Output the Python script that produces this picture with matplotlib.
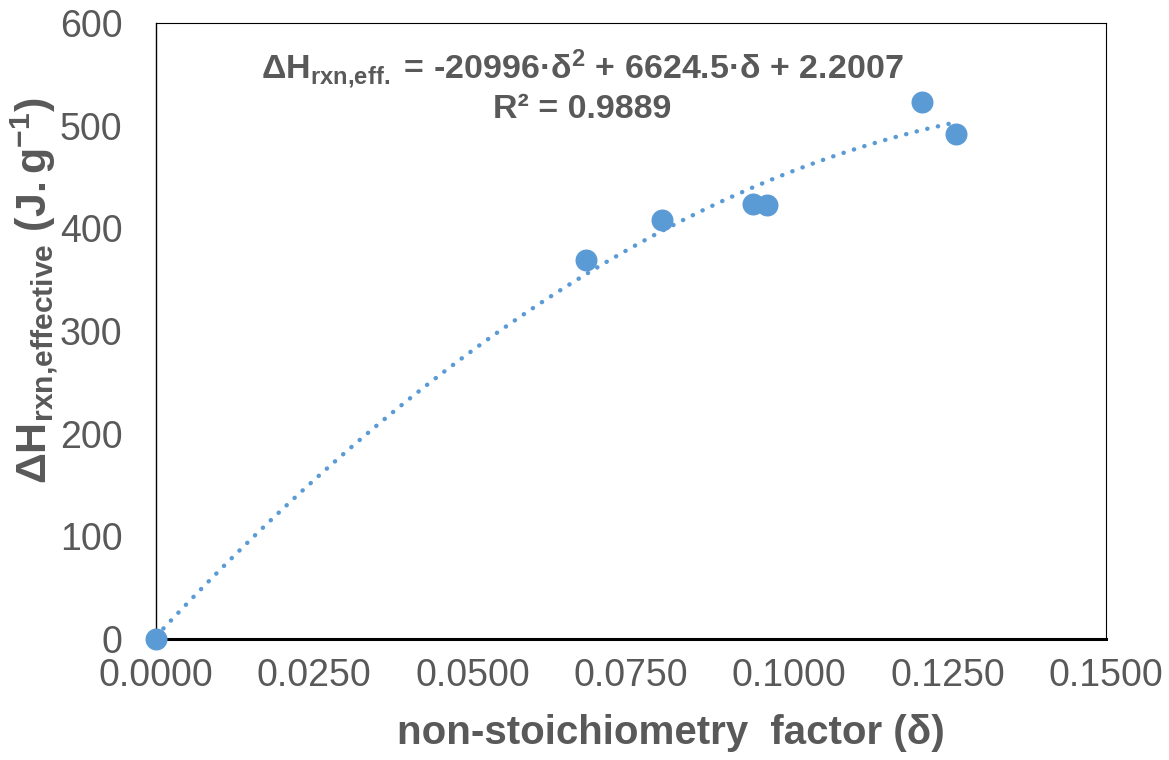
import matplotlib.pyplot as plt
import numpy as np

plt.rcParams['font.family'] = ['Liberation Sans', 'DejaVu Sans']
plt.rcParams['mathtext.fontset'] = 'custom'
plt.rcParams['mathtext.rm'] = 'Liberation Sans'
plt.rcParams['mathtext.bf'] = 'Liberation Sans:bold'
plt.rcParams['mathtext.it'] = 'Liberation Sans:italic'

# measured data
delta = [0.0, 0.0679, 0.0799, 0.0942, 0.0965, 0.1209, 0.1264]
dh_eff = [0.0, 369.0, 408.5, 423.6, 423.0, 523.5, 491.7]

x_ticks = [0.0, 0.025, 0.05, 0.075, 0.1, 0.125, 0.15]
y_ticks = [0, 100, 200, 300, 400, 500, 600]

blue = '#5B9BD5'
grey = '#595959'

fig = plt.figure(figsize=(11.69, 7.6), dpi=100)
ax = fig.add_axes([0.1334, 0.1596, 0.8126, 0.810])

# 2nd order polynomial trendline
coef = np.polyfit(delta, dh_eff, 2)
xs = np.linspace(0, max(delta), 200)
ax.plot(xs, np.polyval(coef, xs), color=blue, lw=3.2,
        linestyle=(0, (0.05, 2.4)), dash_capstyle='round', zorder=2)

ax.scatter(delta, dh_eff, s=220, color=blue, zorder=3, clip_on=False)

ax.set_xlim(0, 0.15)
ax.set_ylim(0, 600)
ax.set_xticks(x_ticks)
ax.set_xticklabels([f'{v:.4f}' for v in x_ticks])
ax.set_yticks(y_ticks)
ax.tick_params(length=0, labelsize=27, labelcolor=grey)
ax.tick_params(axis='x', pad=14)
ax.tick_params(axis='y', pad=24)

for s in ['top', 'right']:
    ax.spines[s].set_linewidth(0.8)
ax.spines['left'].set_linewidth(1.0)
ax.spines['bottom'].set_linewidth(2.2)

ax.set_xlabel('non-stoichiometry  factor (δ)', fontsize=29, fontweight='bold',
              color=grey)
ax.xaxis.set_label_coords(0.542, -0.123)
ax.set_ylabel(r'$\mathbf{\Delta H_{rxn{,}effective}\ (J{.}g^{-1})}$', fontsize=31,
              color=grey)
ax.yaxis.set_label_coords(-0.101, 0.566)

eq = (r'$\mathbf{\Delta H_{rxn{,}eff.}}$' + ' = -20996·δ' + r'$\mathbf{^2}$'
      + ' + 6624.5·δ + 2.2007')
ax.text(0.0673, 555, eq, fontsize=24.5, fontweight='bold', color=grey,
        ha='center', va='center')
ax.text(0.0673, 516, 'R² = 0.9889', fontsize=24.5, fontweight='bold', color=grey,
        ha='center', va='center')

fig.savefig('out.png', dpi=100)
